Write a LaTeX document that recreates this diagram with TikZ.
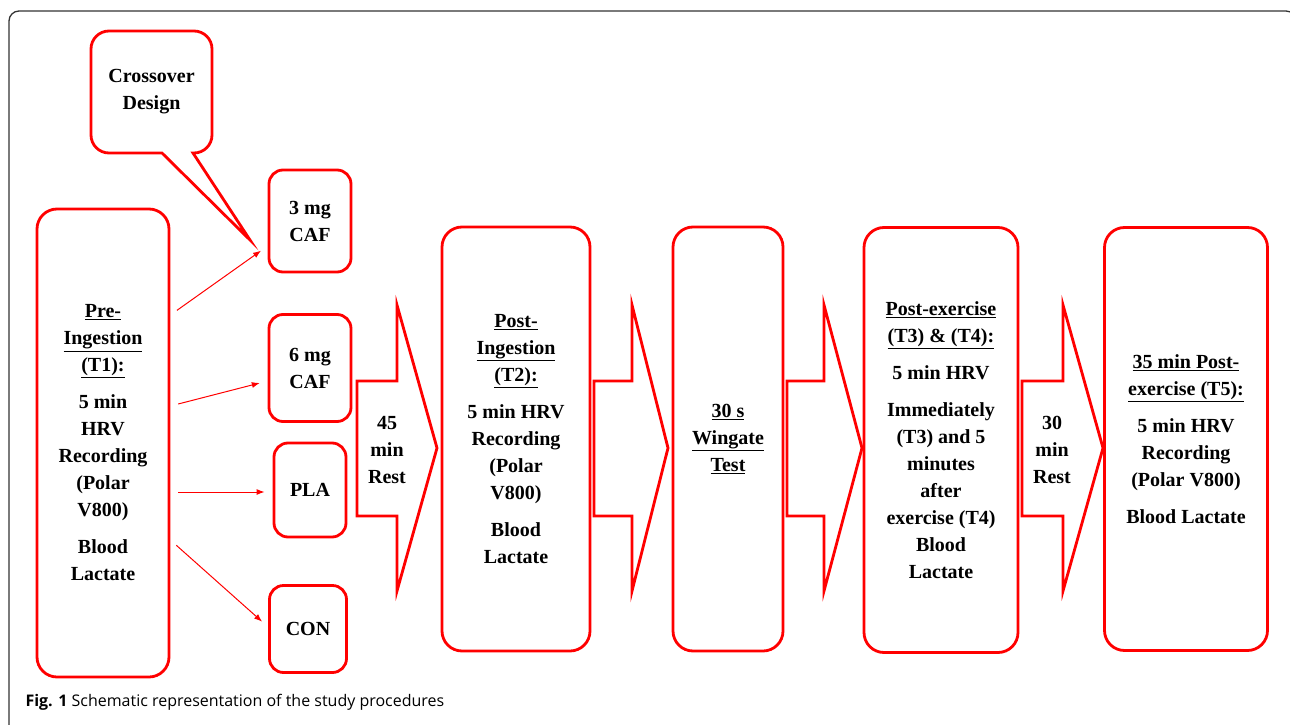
\documentclass[tikz,border=0pt]{standalone}
\usepackage{fontspec}
\setmainfont{Liberation Serif}
\newfontfamily\capfont{Open Sans}
\usetikzlibrary{arrows.meta}

\begin{document}
\begin{tikzpicture}[x=1pt,y=-1pt,>={Latex[length=8pt,width=6pt]},
	box/.style={draw=red,line width=2.8pt,rounded corners=20pt,align=center,font=\bfseries\fontsize{20}{27}\selectfont},
	smallbox/.style={box,rounded corners=14pt},
	blockarrow/.style={draw=red,line width=2.8pt,fill=white,line join=miter},
	thinarrow/.style={->,red,line width=1pt,shorten <=8pt,shorten >=8pt},
	lbl/.style={align=center,font=\bfseries\fontsize{20}{27}\selectfont}]
			\useasboundingbox (0,0) rectangle (1290,725);
			\draw[black!80,line width=1.3pt,rounded corners=10pt] (9,725) |- (1296,11) -- (1296,60);
			% callout
			\draw[red,line width=2.8pt] (91,92) [rounded corners=18pt] -- (91,153) [sharp corners] -- (162,153) -- (250,240) -- (193,153) [rounded corners=18pt] -- (212,153) -- (212,31) -- (91,31) -- cycle;
			\node[lbl] (design) at (151.5,92) {Crossover\\Design};
			% boxes
			\node[box,minimum width=132,minimum height=468] (pre) at (103,443) {\underline{Pre-}\\\underline{Ingestion}\\\underline{(T1):}\\[10pt]5 min\\HRV\\Recording\\(Polar\\V800)\\[10pt]Blood\\Lactate};
			\node[smallbox,minimum width=82,minimum height=102] (caf3) at (310,221) {3 mg\\CAF};
			\node[smallbox,minimum width=82,minimum height=107] (caf6) at (310,368) {6 mg\\CAF};
			\node[smallbox,minimum width=72,minimum height=94] (pla) at (310,490) {PLA};
			\node[smallbox,minimum width=77,minimum height=87] (con) at (308,629) {CON};
			\node[box,minimum width=148,minimum height=424] (post) at (516,439) {\underline{Post-}\\\underline{Ingestion}\\\underline{(T2):}\\[10pt]5 min HRV\\Recording\\(Polar\\V800)\\[10pt]Blood\\Lactate};
			\node[box,minimum width=110,minimum height=424] (wingate) at (728,439) {\underline{30 s}\\\underline{Wingate}\\\underline{Test}};
			\node[box,minimum width=154,minimum height=425] (postex) at (941,440) {\underline{Post-exercise}\\\underline{(T3) \& (T4):}\\[10pt]5 min HRV\\[10pt]Immediately\\(T3) and 5\\minutes\\after\\exercise (T4)\\Blood\\Lactate};
			\node[box,minimum width=163,minimum height=423] (final) at (1186,439) {\underline{35 min Post-}\\\underline{exercise (T5):}\\[10pt]5 min HRV\\Recording\\(Polar V800)\\[10pt]Blood Lactate};
			% thin arrows
			\draw[thinarrow] ([yshift=128pt]pre.east) -- ([yshift=-25pt]caf3.west);
			\draw[thinarrow] ([yshift=37pt]pre.east) -- ([yshift=-13pt]caf6.west);
			\draw[thinarrow] ([yshift=-49pt]pre.east) -- ([yshift=-2pt]pla.west);
			\draw[thinarrow] ([yshift=-97pt]pre.east) -- ([yshift=2pt]con.west);
			% block arrows
			\foreach \a/\b/\c in {357/397/437,594/632/668,787/824/862,1022/1063/1103}
				\draw[blockarrow] (\a,381) -- (\b,381) -- (\b,305) -- (\c,448) -- (\b,591) -- (\b,516) -- (\a,516) -- cycle;
			\node[lbl] (rest1) at (387,450) {45\\min\\Rest};
			\node[lbl] (rest2) at (1052,450) {30\\min\\Rest};
			\node[anchor=base west,font=\capfont\fontsize{16}{19}\selectfont] (caption) at (22,706) {\textbf{Fig. 1} Schematic representation of the study procedures};
		\end{tikzpicture}
\end{document}
